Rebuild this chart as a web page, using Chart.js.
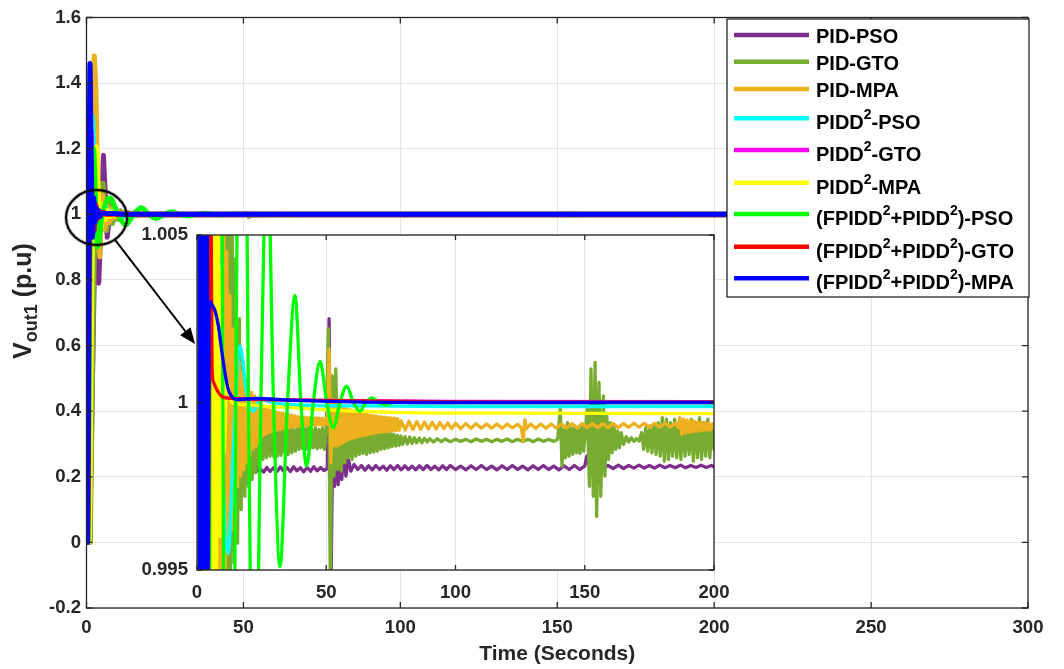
<!DOCTYPE html>
<html>
<head>
<meta charset="utf-8">
<script src="https://cdn.jsdelivr.net/npm/chart.js@4.4.0/dist/chart.umd.min.js"></script>
<style>
html,body{margin:0;padding:0;background:#fff;}
#wrap{position:relative;width:1064px;height:669px;overflow:hidden;}
#wrap canvas{position:absolute;left:0;top:0;}
</style>
</head>
<body>
<div id="wrap">
<canvas id="mainChart" width="1064" height="669"></canvas>
<canvas id="insetChart" width="1064" height="669"></canvas>
</div>
<script>
// ---------------- DATA (time in seconds, voltage in p.u.) ----------------
const seriesNames = ['PID-PSO','PID-GTO','PID-MPA','PIDD²-PSO','PIDD²-GTO','PIDD²-MPA',
  '(FPIDD²+PIDD²)-PSO','(FPIDD²+PIDD²)-GTO','(FPIDD²+PIDD²)-MPA'];

const mainXTicks = [0,50,100,150,200,250,300];
const mainYTicks = [-0.2,0,0.2,0.4,0.6,0.8,1,1.2,1.4,1.6];
const insetXTicks = [0,50,100,150,200];
const insetYTicks = [0.995,1,1.005];

const pidPso = [[0,0],[1.0,0],[2.0,0.55],[2.8,1.0],[3.9,0.79],[5.4,1.18],[6.6,0.93],[7.8,1.035],[9.0,0.985],[10.2,1.008],[11.4,0.993],[12.6,1.0045],[13.8,0.9962],[15.0,1.002],[16.2,0.9973],[17.4,0.9995],[18.6,0.9976],[19.8,0.999],[21.0,0.9977],[22.2,0.9985],[23.4,0.99795],[24.5,0.99802],[25.8,0.99792],[27.0,0.99806],[28.3,0.99794],[29.6,0.99805],[30.9,0.99793],[32.2,0.99808],[33.5,0.99795],[34.8,0.99806],[36.1,0.99794],[37.4,0.99808],[38.7,0.99796],[40.0,0.99805],[41.3,0.99793],[42.6,0.99806],[43.9,0.99795],[45.2,0.99808],[46.5,0.99796],[47.8,0.99806],[49.1,0.99797],[50.4,0.99803],[51.1,1.0025],[51.8,0.9942],[52.5,0.999],[53.2,0.9975],[53.9,0.9988],[54.6,0.99755],[55.3,0.99875],[56.0,0.9977],[56.8,0.9986],[57.6,0.9978],[58.5,0.99835],[59.5,0.99795],[60.8,0.99815],[62.2,0.998],[63.6,0.99812],[65.0,0.99798],[66.4,0.99811],[67.8,0.99799],[69.2,0.99812],[70.6,0.998],[72.0,0.9981],[73.4,0.99798],[74.8,0.99811],[76.2,0.998],[77.6,0.99812],[79.0,0.99799],[80.4,0.99811],[81.8,0.998],[83.2,0.9981],[84.6,0.99799],[86.0,0.99811],[87.5,0.998],[89.0,0.99812],[90.5,0.998],[92.0,0.9981],[93.5,0.99799],[95.0,0.99811],[96.5,0.998],[98.0,0.99812],[100,0.998],[102,0.9981],[104,0.99799],[106,0.99811],[108,0.998],[110,0.99812],[112,0.998],[114,0.9981],[116,0.99799],[118,0.99811],[120,0.998],[122,0.99812],[124,0.998],[126,0.9981],[128,0.99799],[130,0.99811],[132,0.998],[134,0.99812],[136,0.998],[138,0.9981],[140,0.99799],[142,0.99811],[144,0.998],[146,0.99812],[148,0.998],[150.0,0.9981],[150.8,0.9984],[151.6,0.99815],[153,0.99803],[155,0.99812],[157,0.99802],[159,0.99812],[161,0.99803],[163,0.99813],[165,0.99803],[167,0.99812],[169,0.99804],[171,0.99813],[173,0.99804],[175,0.99812],[177,0.99804],[179,0.99813],[181,0.99805],[183,0.99812],[185,0.99805],[187,0.99813],[189,0.99805],[191,0.99812],[193,0.99806],[195,0.99813],[197,0.99806],[199,0.99812],[200,0.99808],[300,0.99808]];

const pidGto = [[0,0],[1.2,0],[2.2,0.72],[3.0,1.12],[4.0,0.9],[5.3,1.095],[6.4,0.95],[7.4,1.04],[8.3,0.972],[9.2,1.02],[10.0,0.985],[10.8,1.011],[11.5,0.991],[12.2,1.0065],[12.9,0.9945],[13.6,1.0052],[14.3,0.9952],[15.0,1.0043],[15.7,0.9958],[16.4,1.0025],[17.1,0.9968],[17.8,1.0012],[18.5,0.9972],[19.2,1.0006],[19.9,0.9975],[20.6,1.0002],[21.3,0.9977],[22.0,0.99995],[22.7,0.9979],[23.4,0.9998],[24.1,0.9981],[24.8,0.99945],[25.5,0.9983],[26.2,0.9993],[26.9,0.99835],[27.6,0.99935],[28.3,0.9984],[29.0,0.9993],[29.7,0.99838],[30.4,0.99928],[31.1,0.9984],[31.8,0.9993],[32.5,0.99842],[33.2,0.99925],[33.9,0.9985],[34.6,0.9992],[35.3,0.99845],[36.0,0.9993],[36.7,0.9985],[37.4,0.9992],[38.1,0.99855],[38.8,0.99925],[39.5,0.9986],[40.2,0.9993],[40.9,0.99862],[41.6,0.99922],[42.3,0.9986],[43.0,0.9993],[43.7,0.99862],[44.4,0.9992],[45.1,0.99865],[45.8,0.99925],[46.5,0.99862],[47.2,0.9992],[47.9,0.99865],[48.6,0.99925],[49.3,0.9986],[50.0,0.9992],[50.8,1.0022],[51.6,0.9944],[52.3,1.0008],[53.0,0.9978],[53.7,1.001],[54.4,0.998],[55.1,0.9995],[55.8,0.99795],[56.5,0.99945],[57.2,0.9982],[57.9,0.9994],[58.6,0.99835],[59.3,0.99945],[60.0,0.9983],[60.7,0.9994],[61.4,0.9984],[62.1,0.99935],[62.8,0.99845],[63.5,0.9993],[64.2,0.99848],[64.9,0.99935],[65.6,0.99845],[66.3,0.9993],[67.0,0.9985],[67.7,0.99925],[68.4,0.99852],[69.1,0.99922],[69.8,0.99855],[70.5,0.9992],[71.2,0.9986],[71.9,0.99915],[72.6,0.99862],[73.3,0.99912],[74.0,0.99865],[74.7,0.9991],[75.4,0.99868],[76.1,0.99905],[76.8,0.9987],[77.5,0.99902],[78.2,0.99872],[78.9,0.999],[79.6,0.99875],[80.5,0.99898],[81.4,0.99876],[82.3,0.99897],[83.2,0.99878],[84.1,0.99895],[85.0,0.9988],[86.0,0.99894],[87.0,0.9988],[88.0,0.99893],[89.0,0.99882],[90.0,0.99892],[91.5,0.99882],[93.0,0.99892],[94.5,0.99883],[96.0,0.99891],[98,0.99883],[100,0.9989],[102,0.99884],[104,0.9989],[106,0.99883],[108,0.99891],[110,0.99884],[112,0.9989],[114,0.99883],[116,0.9989],[118,0.99884],[120,0.99891],[122,0.99883],[124,0.9989],[126,0.99884],[128,0.9989],[130,0.99883],[132,0.99891],[134,0.99884],[136,0.9989],[138,0.99884],[139.5,0.9989],[140.5,0.9998],[141.2,0.9981],[141.9,0.9992],[142.6,0.99835],[143.3,0.9994],[144.0,0.9984],[144.7,0.99925],[145.4,0.99845],[146.1,0.9993],[146.8,0.9985],[147.5,0.9992],[148.2,0.99848],[148.9,0.99935],[149.6,0.99855],[150.3,0.9992],[151.0,0.9998],[151.8,0.9975],[152.4,1.001],[153.3,0.9972],[154.0,1.0012],[154.6,0.9966],[155.5,1.0006],[156.2,0.9972],[157.2,1.0002],[157.8,0.9978],[158.5,0.99965],[159.2,0.9983],[159.9,0.9994],[160.6,0.9985],[161.3,0.9993],[162.0,0.9986],[162.7,0.99915],[163.4,0.99865],[164.1,0.9991],[165,0.99875],[166,0.99898],[167,0.99882],[168,0.99895],[169,0.99884],[170,0.99892],[171,0.99885],[172,0.9991],[172.8,0.9986],[173.6,0.99925],[174.4,0.99855],[175.2,0.9993],[176.0,0.9985],[176.8,0.99935],[177.6,0.99845],[178.4,0.9994],[179.2,0.9984],[180.0,0.99955],[180.8,0.99825],[181.6,0.9995],[182.4,0.9983],[183.2,0.9994],[184.0,0.9984],[184.8,0.9995],[185.6,0.99835],[186.4,0.9994],[187.2,0.9983],[188.0,0.99945],[188.8,0.9984],[189.6,0.9993],[190.4,0.99845],[191.2,0.9995],[192.0,0.99825],[192.8,0.9994],[193.6,0.99835],[194.4,0.99955],[195.2,0.9983],[196.0,0.9994],[196.8,0.9984],[197.6,0.9995],[198.4,0.99835],[199.2,0.9993],[200,0.9986],[230,0.9988],[300,0.9988]];

const pidMpa = [[0,0],[0.6,0],[1.3,0.85],[1.9,1.42],[2.5,1.483],[3.0,1.38],[3.5,1.12],[4.2,0.87],[5.0,1.06],[5.8,0.955],[6.5,1.025],[7.2,0.975],[7.9,1.015],[8.5,0.988],[9.1,1.008],[9.7,0.992],[10.3,1.006],[10.9,0.994],[11.5,1.0045],[12.1,0.9955],[12.7,1.0032],[13.3,0.9962],[13.9,1.0022],[14.5,0.9972],[15.1,1.0016],[15.7,0.9975],[16.3,1.0012],[16.9,0.9978],[17.5,1.0009],[18.1,0.998],[18.7,1.0007],[19.3,0.9982],[19.9,1.0005],[20.5,0.9984],[21.1,1.0003],[21.7,0.9986],[22.3,1.0002],[22.9,0.9987],[23.5,1.0001],[24.1,0.9988],[24.7,0.99995],[25.3,0.999],[25.9,0.99985],[26.5,0.99905],[27.1,0.9998],[27.7,0.9991],[28.3,0.99978],[28.9,0.99912],[29.5,0.99975],[30.1,0.99915],[30.7,0.99972],[31.3,0.99918],[31.9,0.9997],[32.5,0.9992],[33.1,0.99968],[33.7,0.99922],[34.3,0.99966],[34.9,0.99924],[35.5,0.99964],[36.1,0.99926],[36.7,0.99962],[37.3,0.99927],[37.9,0.9996],[38.5,0.99928],[39.1,0.99958],[39.7,0.9993],[40.3,0.99957],[40.9,0.9993],[41.5,0.99956],[42.1,0.99931],[42.7,0.99955],[43.3,0.99931],[43.9,0.99955],[44.5,0.99932],[45.1,0.99954],[45.7,0.99932],[46.3,0.99954],[46.9,0.99933],[47.5,0.99953],[48.1,0.99933],[48.7,0.99953],[49.3,0.99934],[49.9,0.99952],[50.5,0.99935],[51.1,1.0016],[51.8,0.9982],[52.4,1.0001],[53.0,0.9987],[53.6,1.0],[54.2,0.9987],[54.8,0.99995],[55.4,0.99875],[56.0,0.9999],[56.6,0.9988],[57.2,0.99985],[57.8,0.99885],[58.4,0.9998],[59.0,0.9989],[59.6,0.99978],[60.2,0.99893],[60.8,0.99975],[61.4,0.99895],[62.0,0.99972],[62.6,0.99898],[63.2,0.9997],[63.8,0.999],[64.4,0.99968],[65.0,0.99902],[65.6,0.99965],[66.2,0.99904],[66.8,0.99963],[67.4,0.99906],[68.0,0.99961],[68.6,0.99908],[69.2,0.9996],[69.8,0.9991],[70.4,0.99958],[71.0,0.99911],[71.6,0.99957],[72.2,0.99912],[72.8,0.99956],[73.4,0.99913],[74.0,0.99955],[74.6,0.99914],[75.2,0.99954],[75.8,0.99915],[76.4,0.99953],[77.0,0.99916],[77.6,0.99952],[78.2,0.99917],[79.0,0.99945],[80.5,0.99918],[82.0,0.99944],[83.5,0.99919],[85.0,0.99943],[86.5,0.9992],[88.0,0.99942],[89.5,0.99921],[91.0,0.99941],[92.5,0.99921],[94.0,0.9994],[95.5,0.99922],[97.0,0.99939],[98.5,0.99922],[100,0.99938],[102,0.99922],[104,0.99937],[106,0.99923],[108,0.99937],[110,0.99923],[112,0.99936],[114,0.99923],[116,0.99936],[118,0.99923],[120,0.99936],[122,0.99924],[124,0.99935],[125.5,0.99924],[126.2,0.99884],[126.8,0.99949],[127.5,0.99922],[129,0.99936],[131,0.99923],[133,0.99936],[135,0.99923],[137,0.99936],[139,0.99924],[141,0.99936],[143,0.99924],[145,0.99937],[147,0.99924],[149,0.99937],[151,0.99925],[153,0.99937],[155,0.99925],[157,0.99937],[159,0.99925],[161,0.99937],[163,0.99925],[165,0.99937],[167,0.99926],[169,0.99938],[171,0.99926],[173,0.99938],[175,0.99926],[177,0.99938],[179,0.99926],[181,0.99938],[183,0.99927],[185,0.99937],[186.3,0.99925],[186.8,0.99955],[187.5,0.99905],[188.2,0.9995],[188.9,0.99908],[189.6,0.99948],[190.3,0.9991],[191.0,0.99946],[191.7,0.99912],[192.4,0.99944],[193.1,0.99913],[193.8,0.99942],[194.5,0.99915],[195.2,0.9994],[195.9,0.99916],[196.6,0.9994],[197.3,0.99917],[198.0,0.99938],[198.7,0.99918],[199.4,0.99937],[200,0.99925],[300,0.9993]];

const piddPso = [[0,0],[0.6,0],[1.2,0.95],[1.8,1.3],[2.6,1.08],[3.4,0.93],[4.4,0.96],[5.4,1.03],[6.4,1.015],[7.4,1.009],[8.3,1.005],[10.0,0.998],[12.1,0.9955],[14.0,0.9985],[16.6,1.00168],[19.0,1.0004],[21.8,0.99974],[24.5,1.0001],[28,1.00003],[35,0.99994],[60,0.9999],[100,0.99988],[200,0.99988],[300,0.99988]];

const piddGto = [[0,0],[0.5,0],[1.0,0.95],[1.5,1.25],[2.0,1.0],[2.5,0.96],[3.0,1.025],[3.5,0.99],[4.0,1.008],[4.5,0.997],[5.0,1.003],[5.5,1.0045],[6.0,1.0012],[7.0,1.0006],[9.0,1.0003],[12,1.00015],[20,1.0001],[40,1.00007],[100,1.00003],[300,1.00002]];

const piddMpa = [[0,0],[0.8,0],[1.8,0.85],[2.5,1.12],[3.25,1.206],[3.9,1.02],[4.6,0.96],[5.3,1.03],[6.0,0.985],[6.7,1.012],[7.4,0.993],[8.1,1.006],[8.8,0.996],[9.5,1.004],[10.5,0.9985],[11.5,1.0006],[13.4,1.0],[20,0.99993],[28,0.99988],[36,0.99985],[50,0.99978],[80,0.9997],[120,0.99968],[200,0.99967],[300,0.99967]];

const fpiddPso = [[0,0],[0.5,0],[1.3,1.15],[2.2,1.2],[3.5,0.9],[5.0,1.0],[7.5,1.05],[10.0,1.0],[12.5,0.968],[15.0,1.0],[17.5,1.02],[19.9,1.0],[22.2,0.9875],[24.7,1.0],[27.2,1.0078],[29.6,1.0],[32.1,0.9951],[35.0,1.0],[37.9,1.0032],[40.2,1.0],[42.4,0.9981],[45.0,1.0],[47.6,1.00123],[50.2,1.0],[52.7,0.99925],[55.3,1.0],[57.9,1.00049],[60.5,1.0],[63.0,0.99974],[65.3,1.0],[67.6,1.00014],[70.3,1.0],[73.0,0.99993],[75.8,1.0],[78.5,1.00004],[82,1.0],[100,1.0],[200,1.0],[300,1.0]];

const fpiddGto = [[0,0],[0.4,0],[0.9,0.9],[1.3,1.2],[1.9,1.0],[2.4,0.95],[2.9,1.03],[3.4,0.985],[3.9,1.012],[4.4,0.994],[4.9,1.004],[5.4,1.0065],[5.8,1.00108],[6.4,1.0006],[7.6,1.00039],[9.5,1.00019],[12.1,1.00013],[20,1.0001],[35,1.00008],[60,1.00005],[100,1.00002],[150,1.00001],[300,1.00001]];

const fpiddMpa = [[0,0],[0.3,0],[0.7,0.7],[1.1,1.46],[1.5,1.15],[1.9,0.93],[2.3,1.05],[2.7,0.975],[3.1,1.02],[3.5,0.99],[3.9,1.01],[4.3,0.994],[4.7,1.0029],[5.2,1.003],[5.7,1.00293],[7.0,1.00273],[8.3,1.00228],[9.5,1.00158],[10.8,1.00089],[12.1,1.00039],[13.4,1.00019],[15.3,1.00009],[23,1.00012],[36,1.00007],[60,1.00002],[100,1.0],[150,1.0],[200,1.0],[300,1.0]];

const seriesData = [pidPso, pidGto, pidMpa, piddPso, piddGto, piddMpa, fpiddPso, fpiddGto, fpiddMpa];

// ---------------- STYLE ----------------
const seriesColors = ['#7E2F8E','#77AC30','#EDB120','#00FFFF','#FF00FF','#FFFF00','#00FF00','#FF0000','#0000FF'];
const smoothSeries = [false,false,false,true,true,true,true,true,true];
const FONT = '"Liberation Sans", Arial, Helvetica, sans-serif';
const AXIS_COLOR = '#262626';
const GRID_COLOR = '#e4e4e4';

function fmtTick(v){ return String(Math.round(v*100000)/100000); }

function makeDatasets(width){
  return seriesData.map((d,i)=>({
    label: seriesNames[i],
    data: d.map(p=>({x:p[0], y:p[1]})),
    borderColor: seriesColors[i],
    backgroundColor: seriesColors[i],
    borderWidth: width,
    pointRadius: 0,
    pointHoverRadius: 0,
    fill: false,
    order: seriesData.length - i,
    cubicInterpolationMode: smoothSeries[i] ? 'monotone' : 'default',
    tension: 0,
    borderJoinStyle: 'round',
    borderCapStyle: 'round'
  }));
}

function drawRich(ctx, text, x, y, size, supSize, supRise){
  const parts = text.split('²');
  let cx = x;
  ctx.textAlign = 'left';
  ctx.textBaseline = 'alphabetic';
  parts.forEach((p,i)=>{
    ctx.font = 'bold ' + size + 'px ' + FONT;
    ctx.fillText(p, cx, y);
    cx += ctx.measureText(p).width;
    if (i < parts.length - 1){
      ctx.font = 'bold ' + supSize + 'px ' + FONT;
      ctx.fillText('2', cx, y - supRise);
      cx += ctx.measureText('2').width;
    }
  });
}

function drawFrame(chart, xTicks, yTicks, tickLen){
  const ctx = chart.ctx, a = chart.chartArea;
  const xs = chart.scales.x, ys = chart.scales.y;
  ctx.save();
  ctx.strokeStyle = AXIS_COLOR;
  ctx.lineWidth = 1.3;
  ctx.beginPath();
  xTicks.forEach(v=>{
    const px = xs.getPixelForValue(v);
    ctx.moveTo(px, a.bottom); ctx.lineTo(px, a.bottom - tickLen);
    ctx.moveTo(px, a.top); ctx.lineTo(px, a.top + tickLen);
  });
  yTicks.forEach(v=>{
    const py = ys.getPixelForValue(v);
    ctx.moveTo(a.left, py); ctx.lineTo(a.left + tickLen, py);
    ctx.moveTo(a.right, py); ctx.lineTo(a.right - tickLen, py);
  });
  ctx.stroke();
  ctx.strokeRect(a.left, a.top, a.right - a.left, a.bottom - a.top);
  ctx.restore();
}

function tickFont(){ return {family: FONT, size: 18.6, weight: 'bold'}; }

// ---------------- MAIN CHART ----------------
const mainPlugin = {
  id: 'mainDecor',
  beforeDraw(chart){
    const ctx = chart.ctx;
    ctx.save(); ctx.fillStyle = '#fff'; ctx.fillRect(0,0,chart.width,chart.height); ctx.restore();
  },
  afterDraw(chart){
    const ctx = chart.ctx, a = chart.chartArea;
    const xs = chart.scales.x, ys = chart.scales.y;
    drawFrame(chart, mainXTicks, mainYTicks, 6);

    // legend box
    const lx = a.left + 640.5, ly = a.top + 1.5, lw = a.right - lx + 1, lh = 278;
    ctx.save();
    ctx.fillStyle = '#fff';
    ctx.fillRect(lx, ly, lw, lh);
    ctx.strokeStyle = AXIS_COLOR; ctx.lineWidth = 1.3;
    ctx.strokeRect(lx, ly, lw, lh);
    const baseOffsets = [24.3, 51, 78.3, 110.3, 142, 174.7, 206, 238.7, 270.3];
    seriesNames.forEach((name,i)=>{
      const hasSup = name.indexOf('²') >= 0;
      const by = ly + baseOffsets[i];
      const lineY = by - (hasSup ? 11 : 8.3);
      ctx.strokeStyle = seriesColors[i];
      ctx.lineWidth = 4.5;
      ctx.beginPath(); ctx.moveTo(lx + 7, lineY); ctx.lineTo(lx + 82, lineY); ctx.stroke();
      ctx.fillStyle = '#000';
      drawRich(ctx, name, lx + 89, by, 20, 14, 10);
    });
    ctx.restore();

    // circle + arrow annotation
    ctx.save();
    const cx = xs.getPixelForValue(3.2), cy = ys.getPixelForValue(0.99);
    ctx.strokeStyle = 'rgba(0,0,0,0.25)'; ctx.lineWidth = 4;
    ctx.beginPath(); ctx.ellipse(cx, cy, 30.5, 27.5, 0, 0, Math.PI*2); ctx.stroke();
    ctx.strokeStyle = '#000'; ctx.lineWidth = 2;
    ctx.beginPath(); ctx.ellipse(cx, cy, 30.5, 27.5, 0, 0, Math.PI*2); ctx.stroke();
    const x0 = xs.getPixelForValue(9.1), y0 = ys.getPixelForValue(0.922);
    const x1 = xs.getPixelForValue(34.6), y1 = ys.getPixelForValue(0.605);
    const ang = Math.atan2(y1 - y0, x1 - x0);
    const hl = 16, hw = 6.5;
    const bx = x1 - hl*Math.cos(ang), by2 = y1 - hl*Math.sin(ang);
    ctx.lineWidth = 2;
    ctx.beginPath(); ctx.moveTo(x0, y0); ctx.lineTo(bx, by2); ctx.stroke();
    ctx.fillStyle = '#000';
    ctx.beginPath();
    ctx.moveTo(x1, y1);
    ctx.lineTo(bx + hw*Math.sin(ang), by2 - hw*Math.cos(ang));
    ctx.lineTo(bx - hw*Math.sin(ang), by2 + hw*Math.cos(ang));
    ctx.closePath(); ctx.fill();
    ctx.restore();

    // axis titles
    ctx.save();
    ctx.fillStyle = AXIS_COLOR;
    ctx.font = 'bold 21px ' + FONT;
    ctx.textAlign = 'center'; ctx.textBaseline = 'alphabetic';
    ctx.fillText('Time (Seconds)', (a.left + a.right)/2, 660);
    // y label with subscript
    const p1 = 'V', p2 = 'out1', p3 = ' (p.u)';
    const big = 25, small = 18;
    ctx.font = 'bold ' + big + 'px ' + FONT; const w1 = ctx.measureText(p1).width, w3 = ctx.measureText(p3).width;
    ctx.font = 'bold ' + small + 'px ' + FONT; const w2 = ctx.measureText(p2).width;
    const total = w1 + w2 + w3;
    ctx.translate(31, 301);
    ctx.rotate(-Math.PI/2);
    ctx.textAlign = 'left';
    let tx = -total/2;
    ctx.font = 'bold ' + big + 'px ' + FONT; ctx.fillText(p1, tx, 0); tx += w1;
    ctx.font = 'bold ' + small + 'px ' + FONT; ctx.fillText(p2, tx, 6); tx += w2;
    ctx.font = 'bold ' + big + 'px ' + FONT; ctx.fillText(p3, tx, 0);
    ctx.restore();
  }
};

new Chart(document.getElementById('mainChart'), {
  type: 'line',
  data: { datasets: makeDatasets(5) },
  options: {
    responsive: false,
    animation: false,
    devicePixelRatio: 1,
    events: [],
    layout: { padding: { left: 0, top: 17.5, right: 36, bottom: 0 } },
    plugins: { legend: { display: false }, tooltip: { enabled: false } },
    scales: {
      x: {
        type: 'linear', position: 'bottom', min: 0, max: 300,
        afterBuildTicks: s => { s.ticks = mainXTicks.map(v=>({value:v})); },
        afterFit: s => { s.height = 61; },
        grid: { color: GRID_COLOR, lineWidth: 1, drawTicks: false },
        border: { display: false },
        ticks: { padding: 9, color: AXIS_COLOR, font: tickFont(), maxRotation: 0, autoSkip: false, callback: v => fmtTick(v) }
      },
      y: {
        type: 'linear', position: 'left', min: -0.2, max: 1.6,
        afterBuildTicks: s => { s.ticks = mainYTicks.map(v=>({value:v})); },
        afterFit: s => { s.width = 86.5; },
        grid: { color: GRID_COLOR, lineWidth: 1, drawTicks: false },
        border: { display: false },
        ticks: { padding: 5.5, color: AXIS_COLOR, font: tickFont(), autoSkip: false, callback: v => fmtTick(v) }
      }
    }
  },
  plugins: [mainPlugin]
});

// ---------------- INSET (zoomed) CHART ----------------
const insetPlugin = {
  id: 'insetDecor',
  beforeDraw(chart){
    const a = chart.chartArea, ctx = chart.ctx;
    ctx.save(); ctx.fillStyle = '#fff'; ctx.fillRect(a.left, a.top, a.right - a.left, a.bottom - a.top); ctx.restore();
  },
  afterDraw(chart){
    drawFrame(chart, insetXTicks, insetYTicks, 5);
  }
};

new Chart(document.getElementById('insetChart'), {
  type: 'line',
  data: { datasets: makeDatasets(3.3) },
  options: {
    responsive: false,
    animation: false,
    devicePixelRatio: 1,
    events: [],
    layout: { padding: { left: 137, top: 235, right: 350, bottom: 59 } },
    plugins: { legend: { display: false }, tooltip: { enabled: false } },
    scales: {
      x: {
        type: 'linear', position: 'bottom', min: 0, max: 200,
        afterBuildTicks: s => { s.ticks = insetXTicks.map(v=>({value:v})); },
        afterFit: s => { s.height = 40; },
        grid: { color: GRID_COLOR, lineWidth: 1, drawTicks: false },
        border: { display: false },
        ticks: { padding: 12, color: AXIS_COLOR, font: tickFont(), maxRotation: 0, autoSkip: false, callback: v => fmtTick(v) }
      },
      y: {
        type: 'linear', position: 'left', min: 0.995, max: 1.005,
        afterBuildTicks: s => { s.ticks = insetYTicks.map(v=>({value:v})); },
        afterFit: s => { s.width = 60; },
        grid: { color: GRID_COLOR, lineWidth: 1, drawTicks: false },
        border: { display: false },
        ticks: { padding: 9, color: AXIS_COLOR, font: tickFont(), autoSkip: false, callback: v => fmtTick(v) }
      }
    }
  },
  plugins: [insetPlugin]
});
</script>
</body>
</html>
